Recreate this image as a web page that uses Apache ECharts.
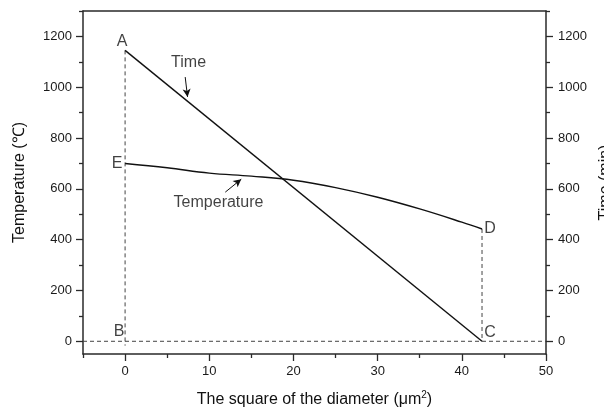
<!DOCTYPE html>
<html>
<head>
<meta charset="utf-8">
<script src="https://cdn.jsdelivr.net/npm/echarts@6/dist/echarts.min.js"></script>
<style>
  html, body { margin: 0; padding: 0; background: #fff; }
  #chart { width: 604px; height: 412px; }
</style>
</head>
<body>
<div id="chart"></div>
<script>
// Axis ranges and tick positions
const xRange = [-5, 50];
const yRange = [-50, 1300];
const xMajorTicks = [0, 10, 20, 30, 40, 50];
const xMinorTicks = [-5, 5, 15, 25, 35, 45];
const yMajorTicks = [0, 200, 400, 600, 800, 1000, 1200];
const yMinorTicks = [100, 300, 500, 700, 900, 1100, 1300];

// Time line A -> C (right axis, min)
const timeX = [0, 42.4];
const timeY = [1145, 0];

// Temperature curve E -> D (left axis, ℃)
const tempX = [0, 5, 10, 15, 20, 25, 30, 35, 40, 42.4];
const tempY = [700, 683, 662, 650, 634, 605, 567, 521, 469, 442];

// Key point letters
const pointNames = ['A', 'E', 'B', 'C', 'D'];

const FONT = '"Liberation Sans", Arial, sans-serif';
const INK = '#111';
const AXIS = '#2a2a2a';

const lastT = tempX.length - 1;
const keyPoints = [
  { value: [timeX[0], timeY[0]], label: { offset: [-3, -9] } },
  { value: [tempX[0], tempY[0]], label: { offset: [-8, 0] } },
  { value: [timeX[0], 0], label: { offset: [-6, -10] } },
  { value: [timeX[1], timeY[1]], label: { offset: [8, -9] } },
  { value: [tempX[lastT], tempY[lastT]], label: { offset: [8, 0] } }
].map((p, i) => Object.assign(p, { name: pointNames[i] }));

function xAxisBase(extra) {
  return Object.assign({
    type: 'value', min: xRange[0], max: xRange[1], position: 'bottom',
    splitLine: { show: false },
    axisLine: { show: true, onZero: false, lineStyle: { color: AXIS, width: 1.5 } },
    axisLabel: { show: false },
    axisTick: { show: false }
  }, extra);
}
function yAxisBase(extra) {
  return Object.assign({
    type: 'value', min: yRange[0], max: yRange[1],
    splitLine: { show: false },
    axisLine: { show: true, onZero: false, lineStyle: { color: AXIS, width: 1.5 } },
    axisLabel: { show: false },
    axisTick: { show: false }
  }, extra);
}

const plain = v => String(v);
const tickLabelStyle = { color: '#1a1a1a', fontSize: 13, fontFamily: FONT, formatter: plain };
const nameStyle = { color: '#111', fontSize: 16, fontFamily: FONT };
const hiddenLine = { show: false, onZero: false };

const option = {
  backgroundColor: '#fff',
  animation: false,
  grid: { left: 83, right: 58, top: 11, bottom: 58, containLabel: false, outerBoundsMode: 'none' },
  xAxis: [
    xAxisBase({
      name: 'The square of the diameter (μm{sup|2})',
      nameLocation: 'middle', nameGap: 36,
      nameTextStyle: Object.assign({}, nameStyle, {
        rich: { sup: { fontSize: 10, fontFamily: FONT, color: '#111', verticalAlign: 'top', padding: [0, 0, 9, 0] } }
      }),
      axisLabel: Object.assign({ show: true, margin: 11, customValues: xMajorTicks }, tickLabelStyle),
      axisTick: { show: true, inside: false, length: 7, customValues: xMajorTicks, lineStyle: { color: AXIS, width: 1.3 } }
    }),
    xAxisBase({
      axisLine: hiddenLine,
      axisTick: { show: true, inside: false, length: 4, customValues: xMinorTicks, lineStyle: { color: AXIS, width: 1.3 } }
    }),
    xAxisBase({ position: 'top' })
  ],
  yAxis: [
    yAxisBase({
      position: 'left',
      name: 'Temperature (℃)', nameLocation: 'middle', nameGap: 55, nameRotate: 90,
      nameTextStyle: nameStyle,
      axisLabel: Object.assign({ show: true, margin: 11, customValues: yMajorTicks }, tickLabelStyle),
      axisTick: { show: true, inside: false, length: 7, customValues: yMajorTicks, lineStyle: { color: AXIS, width: 1.3 } }
    }),
    yAxisBase({
      position: 'left', axisLine: hiddenLine,
      axisTick: { show: true, inside: false, length: 4, customValues: yMinorTicks, lineStyle: { color: AXIS, width: 1.3 } }
    }),
    yAxisBase({
      position: 'right',
      name: 'Time (min)', nameLocation: 'middle', nameGap: 44, nameRotate: 90,
      nameTextStyle: nameStyle,
      axisLabel: Object.assign({ show: true, margin: 12, customValues: yMajorTicks }, tickLabelStyle),
      axisTick: { show: true, inside: false, length: 7, customValues: yMajorTicks, lineStyle: { color: AXIS, width: 1.3 } }
    }),
    yAxisBase({
      position: 'right', axisLine: hiddenLine,
      axisTick: { show: true, inside: false, length: 4, customValues: yMinorTicks, lineStyle: { color: AXIS, width: 1.3 } }
    })
  ],
  series: [
    // dashed guide lines: A-B, B-C baseline, D-C
    {
      type: 'line', xAxisIndex: 0, yAxisIndex: 0, symbol: 'none', silent: true,
      lineStyle: { color: '#444', width: 1, type: [4, 3] },
      data: [[timeX[0], timeY[0]], [timeX[0], -17]]
    },
    {
      type: 'line', xAxisIndex: 0, yAxisIndex: 0, symbol: 'none', silent: true,
      lineStyle: { color: '#444', width: 1, type: [4, 3] },
      data: [[xRange[0], 0], [xRange[1], 0]]
    },
    {
      type: 'line', xAxisIndex: 0, yAxisIndex: 0, symbol: 'none', silent: true,
      lineStyle: { color: '#444', width: 1, type: [4, 3] },
      data: [[tempX[lastT], tempY[lastT]], [timeX[1], timeY[1]]]
    },
    // Time (right axis)
    {
      name: 'Time', type: 'line', xAxisIndex: 0, yAxisIndex: 2, symbol: 'none',
      lineStyle: { color: INK, width: 1.4 },
      data: timeX.map((x, i) => [x, timeY[i]])
    },
    // Temperature (left axis)
    {
      name: 'Temperature', type: 'line', xAxisIndex: 0, yAxisIndex: 0, symbol: 'none',
      smooth: 0.4,
      lineStyle: { color: INK, width: 1.4 },
      data: tempX.map((x, i) => [x, tempY[i]]),
      markLine: {
        silent: true, symbol: ['none', 'arrow'], symbolSize: [6, 8], precision: 2,
        label: { show: false },
        lineStyle: { color: INK, width: 1, type: 'solid' },
        data: [
          [{ coord: [7.14, 1040] }, { coord: [7.42, 962] }],
          [{ coord: [11.9, 587] }, { coord: [13.8, 638] }]
        ]
      }
    },
    // curve name labels
    {
      type: 'scatter', xAxisIndex: 0, yAxisIndex: 0, symbolSize: 0, silent: true,
      label: { show: true, position: 'inside', formatter: '{b}', color: INK, fontSize: 16, fontFamily: FONT },
      data: [
        { name: 'Time', value: [7.54, 1095] },
        { name: 'Temperature', value: [11.1, 547] }
      ]
    },
    // point letters
    {
      type: 'scatter', xAxisIndex: 0, yAxisIndex: 0, symbolSize: 0, silent: true,
      label: { show: true, position: 'inside', formatter: '{b}', color: INK, fontSize: 16, fontFamily: FONT },
      data: keyPoints
    }
  ]
};

const chart = echarts.init(document.getElementById('chart'), null, { renderer: 'canvas' });
chart.setOption(option);
</script>
</body>
</html>
